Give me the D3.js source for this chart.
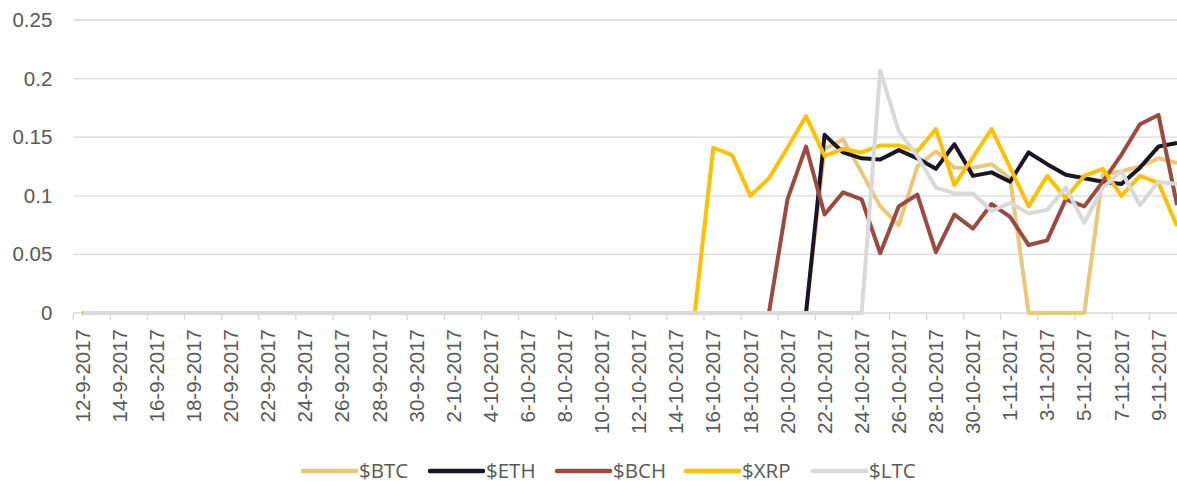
<!DOCTYPE html>
<html>
<head>
<meta charset="utf-8">
<script src="https://cdn.jsdelivr.net/npm/d3@7/dist/d3.min.js"></script>
<style>
  body { margin: 0; background: #fff; }
  svg { display: block; font-family: "Open Sans", sans-serif; }
  .axis text { fill: #595959; }
</style>
</head>
<body>
<svg id="chart" width="1177" height="481"></svg>
<script>
var dates = [
  "12-9-2017","13-9-2017","14-9-2017","15-9-2017","16-9-2017","17-9-2017","18-9-2017","19-9-2017",
  "20-9-2017","21-9-2017","22-9-2017","23-9-2017","24-9-2017","25-9-2017","26-9-2017","27-9-2017",
  "28-9-2017","29-9-2017","30-9-2017",
  "1-10-2017","2-10-2017","3-10-2017","4-10-2017","5-10-2017","6-10-2017","7-10-2017","8-10-2017",
  "9-10-2017","10-10-2017","11-10-2017","12-10-2017","13-10-2017","14-10-2017","15-10-2017","16-10-2017",
  "17-10-2017","18-10-2017","19-10-2017","20-10-2017","21-10-2017","22-10-2017","23-10-2017","24-10-2017",
  "25-10-2017","26-10-2017","27-10-2017","28-10-2017","29-10-2017","30-10-2017","31-10-2017",
  "1-11-2017","2-11-2017","3-11-2017","4-11-2017","5-11-2017","6-11-2017","7-11-2017","8-11-2017",
  "9-11-2017","10-11-2017"
];

// values from 12-9 onward, leading zeros written out
var btc = [0,0,0,0,0,0,0,0,0,0, 0,0,0,0,0,0,0,0,0,0, 0,0,0,0,0,0,0,0,0,0, 0,0,0,0,0,0,0,0,0,0,
  0.140,0.148,0.120,0.091,0.075,0.125,0.138,0.124,0.124,0.127,0.115,0,0,0,0,0.118,0.121,0.125,0.132,0.128];
var eth = [0,0,0,0,0,0,0,0,0,0, 0,0,0,0,0,0,0,0,0,0, 0,0,0,0,0,0,0,0,0,0, 0,0,0,0,0,0,0,0,0,0,
  0.152,0.137,0.132,0.131,0.139,0.132,0.123,0.144,0.117,0.120,0.112,0.137,0.127,0.118,0.115,0.112,0.110,0.124,0.142,0.145];
var bch = [0,0,0,0,0,0,0,0,0,0, 0,0,0,0,0,0,0,0,0,0, 0,0,0,0,0,0,0,0,0,0, 0,0,0,0,0,0,0,0,
  0.097,0.142,0.084,0.103,0.097,0.051,0.091,0.101,0.052,0.084,0.072,0.093,0.082,0.058,0.062,0.097,0.091,0.112,0.135,0.161,0.169,0.092];
var xrp = [0,0,0,0,0,0,0,0,0,0, 0,0,0,0,0,0,0,0,0,0, 0,0,0,0,0,0,0,0,0,0, 0,0,0,0,
  0.141,0.135,0.100,0.115,0.141,0.168,0.134,0.140,0.137,0.143,0.143,0.138,0.157,0.109,0.133,0.157,0.124,0.091,0.117,0.098,0.117,0.123,0.100,0.117,0.111,0.074];
var ltc = [0,0,0,0,0,0,0,0,0,0, 0,0,0,0,0,0,0,0,0,0, 0,0,0,0,0,0,0,0,0,0, 0,0,0,0,0,0,0,0,0,0, 0,0,0,
  0.207,0.155,0.134,0.107,0.102,0.102,0.087,0.094,0.085,0.088,0.107,0.077,0.107,0.121,0.092,0.112,0.110];

var seriesNames = ["$BTC", "$ETH", "$BCH", "$XRP", "$LTC"];
var seriesColors = ["#EBC77A", "#1B1424", "#9C4A40", "#FFC000", "#D9D9D9"];
var yTicks = [0, 0.05, 0.1, 0.15, 0.2, 0.25];

var svg = d3.select("#chart"),
    plotLeft = 73.3,
    step = 18.55,
    plotTop = 20,
    plotBottom = 313,
    fontSize = 20.5;

var x = d3.scaleBand()
    .domain(dates)
    .range([plotLeft, plotLeft + dates.length * step]);

var y = d3.scaleLinear()
    .domain([0, 0.25])
    .range([plotBottom, plotTop]);

// gridlines
svg.append("g")
  .selectAll("line")
  .data(yTicks.filter(function(d) { return d > 0; }))
  .enter().append("line")
    .attr("x1", plotLeft)
    .attr("x2", 1177)
    .attr("y1", function(d) { return y(d); })
    .attr("y2", function(d) { return y(d); })
    .style("stroke", "#D9D9D9")
    .style("stroke-width", 1.3);

// y axis labels
var yAxis = svg.append("g")
    .attr("class", "axis")
    .attr("transform", "translate(" + (plotLeft - 21) + ",0)")
    .call(d3.axisLeft(y).tickValues(yTicks).tickSize(0).tickFormat(d3.format("")));
yAxis.select(".domain").remove();
yAxis.selectAll("text").style("font-size", fontSize + "px").attr("x", 0);

// x axis line + tick marks
svg.append("line")
    .attr("x1", plotLeft).attr("x2", 1177)
    .attr("y1", plotBottom).attr("y2", plotBottom)
    .style("stroke", "#D9D9D9")
    .style("stroke-width", 1.3);

svg.append("g")
  .selectAll("line")
  .data(dates.filter(function(d, i) { return i % 2 === 0; }))
  .enter().append("line")
    .attr("x1", function(d) { return x(d); })
    .attr("x2", function(d) { return x(d); })
    .attr("y1", plotBottom)
    .attr("y2", plotBottom + 7)
    .style("stroke", "#D9D9D9")
    .style("stroke-width", 1.3);

var xAxis = svg.append("g")
    .attr("class", "axis")
    .attr("transform", "translate(0," + plotBottom + ")")
    .call(d3.axisBottom(x)
      .tickValues(dates.filter(function(d, i) { return i % 2 === 0; }))
      .tickSize(0));
xAxis.select(".domain").remove();
xAxis.selectAll("text")
    .style("font-size", fontSize + "px")
    .style("text-anchor", "end")
    .attr("transform", "rotate(-90)")
    .attr("x", -16)
    .attr("y", 0)
    .attr("dy", "0.35em");

// lines
var line = d3.line()
    .x(function(d, i) { return x(dates[i]) + x.bandwidth() / 2; })
    .y(function(d) { return y(d); });

var allSeries = [btc, eth, bch, xrp, ltc];

svg.append("g")
  .selectAll("path")
  .data(allSeries)
  .enter().append("path")
    .attr("d", line)
    .style("fill", "none")
    .style("stroke", function(d, i) { return seriesColors[i]; })
    .style("stroke-width", 4)
    .style("stroke-linejoin", "round");

// legend
var legendX = [303, 430, 557, 686, 813];
var legend = svg.append("g")
  .selectAll("g")
  .data(seriesNames)
  .enter().append("g")
    .attr("transform", function(d, i) { return "translate(" + legendX[i] + ",471)"; });

legend.append("line")
    .attr("x1", 0).attr("x2", 53)
    .style("stroke", function(d, i) { return seriesColors[i]; })
    .style("stroke-width", 4.5)
    .style("stroke-linecap", "round");

legend.append("text")
    .attr("x", 56)
    .attr("dy", "0.35em")
    .style("font-size", fontSize + "px")
    .style("fill", "#595959")
    .text(function(d) { return d; });
</script>
</body>
</html>
